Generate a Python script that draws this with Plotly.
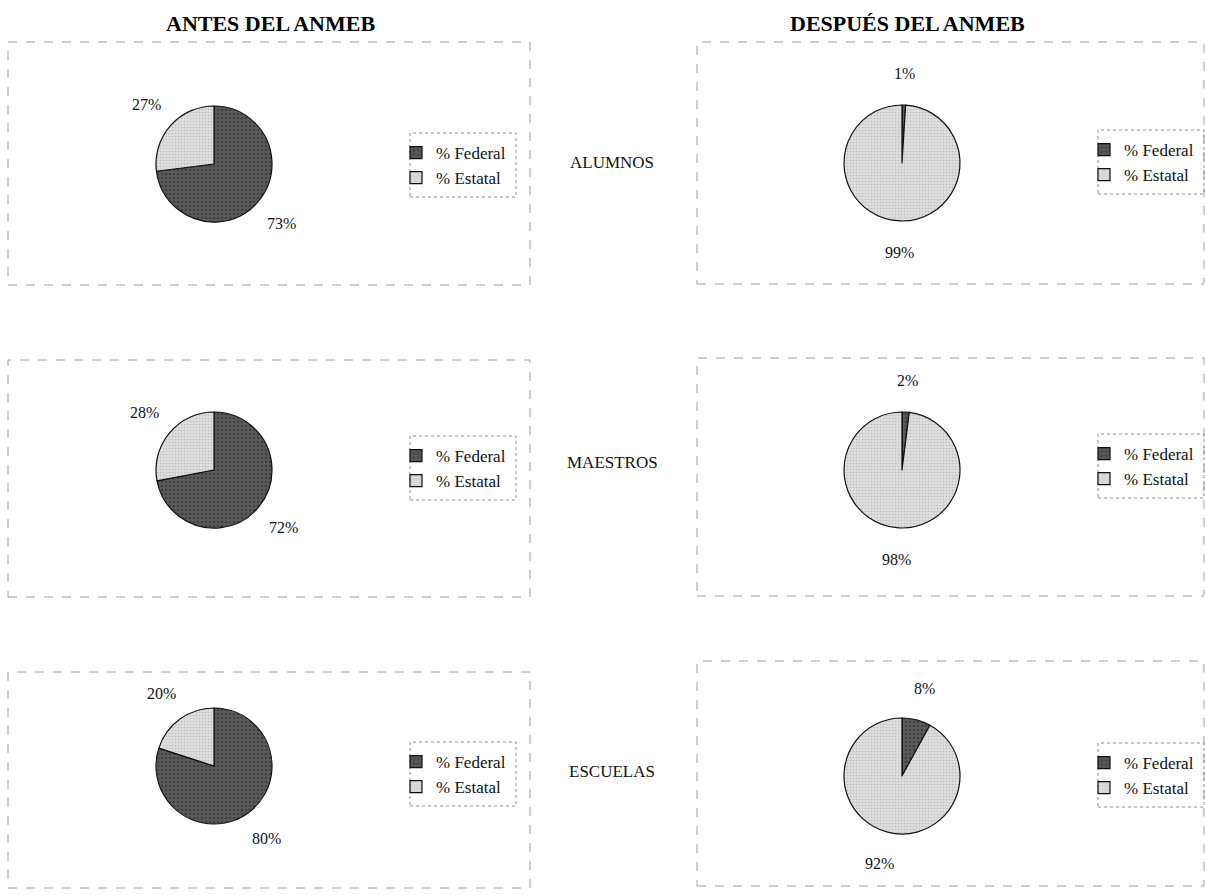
import math
import plotly.graph_objects as go

# Shares (%) of federal vs. state control, before and after the ANMEB
categories = ["ALUMNOS", "MAESTROS", "ESCUELAS"]
slice_labels = ["% Federal", "% Estatal"]
antes_federal = [73, 72, 80]
antes_estatal = [27, 28, 20]
despues_federal = [1, 2, 8]
despues_estatal = [99, 98, 92]
column_titles = ["ANTES DEL ANMEB", "DESPUÉS DEL ANMEB"]

W, H = 1205, 895
SERIF = "Liberation Serif, Times New Roman, serif"
R = 58

# layout grid (pixels)
pie_cx = [214, 902]
pie_cy = [[164, 470, 766], [163, 470, 776]]
legend_x = [410, 1098]
legend_top = [[133, 436, 742], [130, 434, 743]]
frame_x = [(8, 530), (697, 1204)]
frame_y = [[(42, 285), (360, 597), (672, 888)], [(42, 284), (358, 596), (661, 886)]]
title_x = [270, 907]
row_label_x = 612
row_label_y = [163, 463, 771]


def px(x):
    return x / W


def py(y):
    return 1 - y / H


def text_note(x, y, text, size, color="#111"):
    return dict(
        x=px(x), y=py(y), xref="paper", yref="paper",
        xanchor="center", yanchor="middle",
        text=text, showarrow=False,
        font=dict(family=SERIF, size=size, color=color),
    )


fig = go.Figure()
annotations = []
shapes = []
legend_layouts = {}

colors = ["#5a5a5a", "#dedede"]
pattern_fg = ["#262626", "#a0a0a0"]

columns = [(antes_federal, antes_estatal), (despues_federal, despues_estatal)]
n = 0
for c, (fed, est) in enumerate(columns):
    for r in range(3):
        n += 1
        lname = "legend" if n == 1 else f"legend{n}"
        cx, cy = pie_cx[c], pie_cy[c][r]
        vals = [fed[r], est[r]]
        # zero-width spaces keep each chart's legend entries distinct
        names = [lab + "\u200b" * (n - 1) for lab in slice_labels]
        fig.add_trace(go.Pie(
            labels=names,
            values=vals,
            sort=False,
            direction="clockwise",
            rotation=0,
            textinfo="none",
            hoverinfo="label+percent",
            marker=dict(
                colors=colors,
                line=dict(color="#111111", width=1.2),
                pattern=dict(shape=[".", "."], fgcolor=pattern_fg,
                             size=[4, 3], solidity=[0.3, 0.25],
                             fillmode="overlay"),
            ),
            domain=dict(x=[px(cx - R), px(cx + R)], y=[py(cy + R), py(cy - R)]),
            legend=lname,
            showlegend=True,
        ))
        legend_layouts[lname] = dict(
            x=px(legend_x[c] - 14), y=py(legend_top[c][r] + 2),
            xanchor="left", yanchor="top",
            bgcolor="rgba(0,0,0,0)", borderwidth=0,
            font=dict(family=SERIF, size=17, color="#111"),
            itemwidth=30,
        )
        # dashed legend frame
        shapes.append(dict(
            type="rect", xref="paper", yref="paper",
            x0=px(legend_x[c]), x1=px(legend_x[c] + 106),
            y0=py(legend_top[c][r] + 64), y1=py(legend_top[c][r]),
            line=dict(color="#8c8c8c", width=1, dash="dot"),
        ))
        # percentage labels placed at each slice's mid-angle
        total = sum(vals)
        cum = 0
        for v in vals:
            mid = 2 * math.pi * (cum + v / 2) / total
            cum += v
            d = 1.55 * R
            lx = cx + d * math.sin(mid)
            ly = cy - d * math.cos(mid)
            annotations.append(text_note(lx, ly, f"{v}%", 16))
        # chart frame
        x0, x1 = frame_x[c]
        y0, y1 = frame_y[c][r]
        shapes.append(dict(
            type="rect", xref="paper", yref="paper",
            x0=px(x0), x1=px(x1), y0=py(y1), y1=py(y0),
            line=dict(color="#a0a0a0", width=1, dash="dash"),
            layer="below",
        ))

for c, t in enumerate(column_titles):
    annotations.append(text_note(title_x[c], 23, f"<b>{t}</b>", 22, "#000"))

for r, cat in enumerate(categories):
    annotations.append(text_note(row_label_x, row_label_y[r], cat, 17))

fig.update_layout(
    width=W, height=H,
    margin=dict(l=0, r=0, t=0, b=0),
    paper_bgcolor="white",
    plot_bgcolor="white",
    annotations=annotations,
    shapes=shapes,
    **legend_layouts,
)

fig.write_html("out.html")
